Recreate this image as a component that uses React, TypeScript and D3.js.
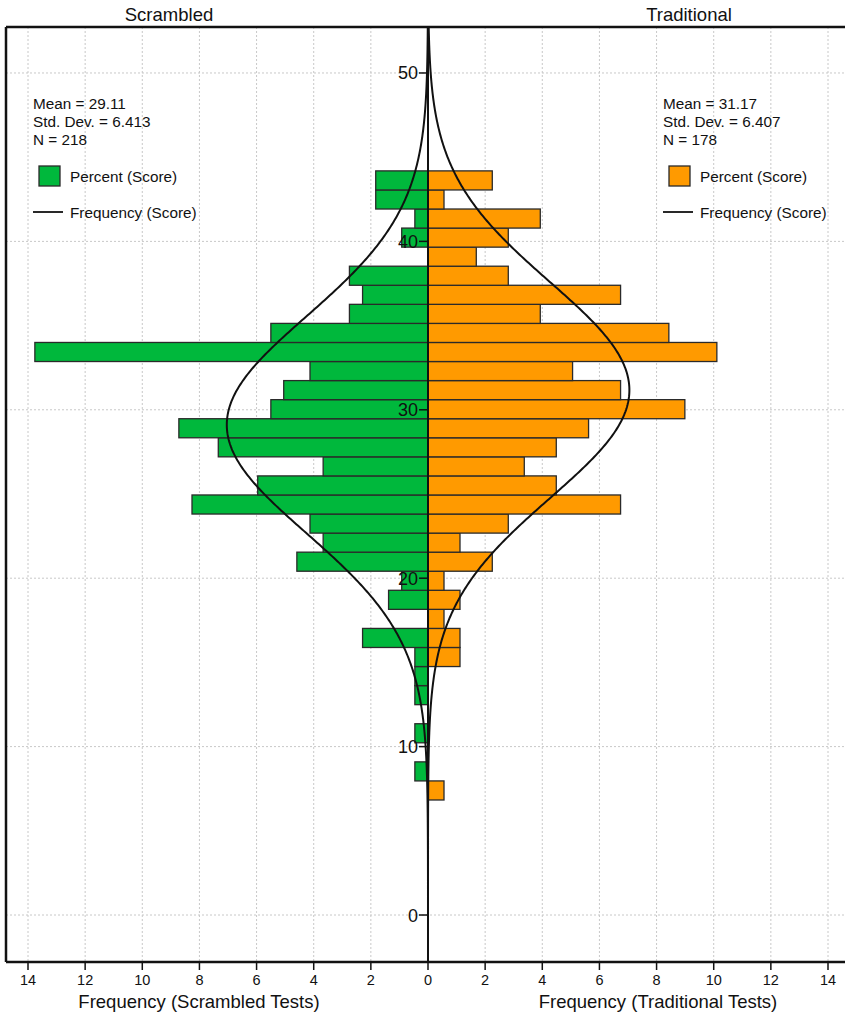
import React from "react";
import * as d3 from "d3";

// ---- data ----
const groups = ["Scrambled", "Traditional"];
const axisTitles = ["Frequency (Scrambled Tests)", "Frequency (Traditional Tests)"];
const xTickValues = [0, 2, 4, 6, 8, 10, 12, 14];
const yTickValues = [0, 10, 20, 30, 40, 50];
const scoreBinStart = 6.83;
const scoreBinWidth = 1.132;
// percent per score bin, lowest bin first
const scrambledPercent = [
  0, 0.46, 0, 0.46, 0, 0.46, 0.46, 0.46, 2.29, 0, 1.38, 0.92, 4.59, 3.67, 4.13, 8.26, 5.96,
  3.67, 7.34, 8.72, 5.5, 5.05, 4.13, 13.76, 5.5, 2.75, 2.29, 2.75, 0, 0.92, 0.46, 1.83, 1.83,
];
const traditionalPercent = [
  0.56, 0, 0, 0, 0, 0, 0, 1.12, 1.12, 0.56, 1.12, 0.56, 2.25, 1.12, 2.81, 6.74, 4.49, 3.37,
  4.49, 5.62, 8.99, 6.74, 5.06, 10.11, 8.43, 3.93, 6.74, 2.81, 1.69, 2.81, 3.93, 0.56, 2.25,
];
const scrambledStats = { mean: 29.11, sd: 6.413, n: 218 };
const traditionalStats = { mean: 31.17, sd: 6.407, n: 178 };

const GREEN = "#00b83c";
const ORANGE = "#ff9a00";
const FONT = "'Liberation Sans', Arial, sans-serif";

export default function App() {
  const W = 845;
  const H = 1015;
  const left = 6, right = 850, top = 27, bottom = 962;
  const cx0 = 428;
  const x = d3.scaleLinear().domain([-14.77, 14.77]).range([left, right]);
  const y = d3.scaleLinear().domain([-2.79, 52.73]).range([bottom, top]);

  const bars = (vals: number[], side: number, color: string) =>
    vals.map((v, i) => {
      if (v <= 0) return null;
      const lo = scoreBinStart + i * scoreBinWidth;
      const hi = lo + scoreBinWidth;
      const xa = x(0), xb = x(side * v);
      return (
        <rect
          key={`${side}-${i}`}
          x={Math.min(xa, xb)}
          y={y(hi)}
          width={Math.abs(xb - xa)}
          height={y(lo) - y(hi)}
          fill={color}
          stroke="#2a2a2a"
          strokeWidth={1.3}
        />
      );
    });

  const curve = (st: { mean: number; sd: number }, side: number) => {
    const pts = d3.range(-2.79, 52.74, 0.1).map((s) => {
      const z = (s - st.mean) / st.sd;
      const pct = (100 * scoreBinWidth * Math.exp(-0.5 * z * z)) / (st.sd * Math.sqrt(2 * Math.PI));
      return [x(side * pct), y(s)] as [number, number];
    });
    return d3.line()(pts) || "";
  };

  const legend = (tx: number, st: { mean: number; sd: number; n: number }, color: string) => (
    <g fontFamily={FONT} fontSize={15.3} fill="#111">
      <text x={tx} y={109}>{`Mean = ${st.mean.toFixed(2)}`}</text>
      <text x={tx} y={127}>{`Std. Dev. = ${st.sd.toFixed(3)}`}</text>
      <text x={tx} y={145}>{`N = ${st.n}`}</text>
      <rect x={tx + 6} y={166} width={21} height={20} fill={color} stroke="#2a2a2a" strokeWidth={1.3} />
      <text x={tx + 37} y={182}>Percent (Score)</text>
      <line x1={tx} x2={tx + 30} y1={212} y2={212} stroke="#111" strokeWidth={1.8} />
      <text x={tx + 37} y={218}>Frequency (Score)</text>
    </g>
  );

  return (
    <svg width={W} height={H} style={{ position: "absolute", left: 0, top: 0, background: "#fff" }}>
      <defs>
        <clipPath id="plotclip">
          <rect x={left} y={top} width={right - left} height={bottom - top} />
        </clipPath>
      </defs>
      <rect x={0} y={0} width={W} height={H} fill="#fff" />
      {/* grid */}
      <g stroke="#c8c8c8" strokeWidth={1} strokeDasharray="2,2">
        {xTickValues.filter((v) => v > 0).flatMap((v) => [
          <line key={`gl${v}`} x1={x(-v)} x2={x(-v)} y1={top} y2={bottom} />,
          <line key={`gr${v}`} x1={x(v)} x2={x(v)} y1={top} y2={bottom} />,
        ])}
        {yTickValues.map((v) => (
          <line key={`gy${v}`} x1={left} x2={right} y1={y(v)} y2={y(v)} />
        ))}
      </g>
      <g clipPath="url(#plotclip)">
        {bars(scrambledPercent, -1, GREEN)}
        {bars(traditionalPercent, 1, ORANGE)}
        <path d={curve(scrambledStats, -1)} fill="none" stroke="#111" strokeWidth={2} />
        <path d={curve(traditionalStats, 1)} fill="none" stroke="#111" strokeWidth={2} />
      </g>
      {/* center axis */}
      <line x1={x(0)} x2={x(0)} y1={top} y2={bottom} stroke="#111" strokeWidth={2} />
      {yTickValues.map((v) => (
        <g key={`yt${v}`}>
          <line x1={x(0) - 9} x2={x(0)} y1={y(v)} y2={y(v)} stroke="#111" strokeWidth={1.5} />
          <text x={x(0) - 10} y={y(v) + 6.5} textAnchor="end" fontFamily={FONT} fontSize={18} fill="#111">
            {v}
          </text>
        </g>
      ))}
      {/* frame */}
      <line x1={left} x2={W} y1={top} y2={top} stroke="#111" strokeWidth={2.5} />
      <line x1={left} x2={W} y1={bottom} y2={bottom} stroke="#111" strokeWidth={2.5} />
      <line x1={left} x2={left} y1={top} y2={bottom} stroke="#111" strokeWidth={2.5} />
      {/* titles */}
      <text x={cx0 - 259} y={20.5} textAnchor="middle" fontFamily={FONT} fontSize={18.5} fill="#111">{groups[0]}</text>
      <text x={cx0 + 261} y={20.5} textAnchor="middle" fontFamily={FONT} fontSize={18.5} fill="#111">{groups[1]}</text>
      {/* x ticks and labels */}
      {xTickValues.flatMap((v) =>
        (v === 0 ? [0] : [-v, v]).map((s) => (
          <g key={`xt${s}`}>
            <line x1={x(s)} x2={x(s)} y1={bottom} y2={bottom + 8} stroke="#111" strokeWidth={1.5} />
            <text x={x(s)} y={985} textAnchor="middle" fontFamily={FONT} fontSize={14.5} fill="#111">
              {Math.abs(s)}
            </text>
          </g>
        ))
      )}
      <text x={cx0 - 229} y={1008} textAnchor="middle" fontFamily={FONT} fontSize={18.5} fill="#111">{axisTitles[0]}</text>
      <text x={cx0 + 230} y={1008} textAnchor="middle" fontFamily={FONT} fontSize={18.5} fill="#111">{axisTitles[1]}</text>
      {legend(33, scrambledStats, GREEN)}
      {legend(663, traditionalStats, ORANGE)}
    </svg>
  );
}
